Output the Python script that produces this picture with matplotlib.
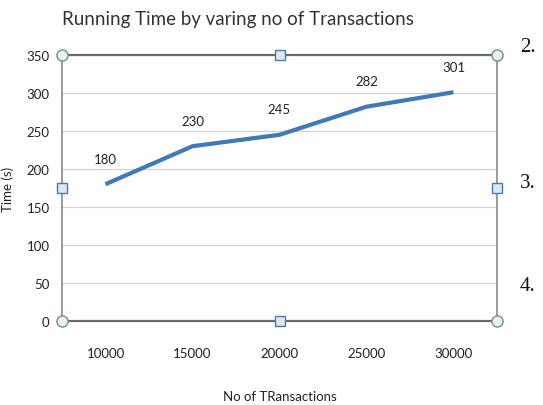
import matplotlib.pyplot as plt

transactions = ['10000', '15000', '20000', '25000', '30000']
run_time = [180, 230, 245, 282, 301]
y_ticks = [0, 50, 100, 150, 200, 250, 300, 350]

plt.rcParams['font.family'] = ['Lato', 'DejaVu Sans']

fig = plt.figure(figsize=(5.43, 4.06), dpi=100)
ax = fig.add_axes([62/543, 84/406, 435/543, 266/406])

x = list(range(len(transactions)))
ax.plot(x, run_time, color='#4178b9', lw=3, solid_capstyle='butt')
for xi, v in zip(x, run_time):
    ax.annotate(str(v), (xi, v), xytext=(0, 14), textcoords='offset points',
                ha='center', va='bottom', fontsize=9.5, color='#222222')

ax.set_xlim(-0.5, len(transactions) - 0.5)
ax.set_ylim(0, 350)
ax.set_yticks(y_ticks)
ax.set_xticks(x)
ax.set_xticklabels(transactions)
ax.tick_params(length=0, labelsize=9.5, colors='#222222')
ax.tick_params(axis='x', pad=19)
ax.tick_params(axis='y', pad=9)
ax.yaxis.grid(True, color='#d0d0d0', lw=0.8)
ax.set_axisbelow(True)
for s in ['left', 'right']:
    ax.spines[s].set_color('#8a8a8a')
    ax.spines[s].set_linewidth(1.2)
for s in ['top', 'bottom']:
    ax.spines[s].set_color('#6a6a6a')
    ax.spines[s].set_linewidth(1.6)

ax.set_xlabel('No of TRansactions', fontsize=9.5, color='#222222', labelpad=22)
ax.set_ylabel('Time (s)', fontsize=9.5, color='#222222', labelpad=9)
fig.text(238/543, 1 - 19/406, 'Running Time by varing no of Transactions',
         ha='center', va='center', fontsize=13.5, color='#333333')

# selection handles of the chart frame
for hx, hy in [(0, 0), (0, 1), (1, 0), (1, 1)]:
    ax.plot(hx, hy, 'o', ms=8, mfc='#e4f2f2', mec='#7a8a8a', mew=1,
            transform=ax.transAxes, clip_on=False, zorder=5)
for hx, hy in [(0.5, 0), (0.5, 1), (0, 0.5), (1, 0.5)]:
    ax.plot(hx, hy, 's', ms=7, mfc='#dbe8f4', mec='#4a78a8', mew=1,
            transform=ax.transAxes, clip_on=False, zorder=5)

for lab, yy in [('2.', 47), ('3.', 183), ('4.', 287)]:
    fig.text(520/543, 1 - yy/406, lab, ha='left', va='center',
             fontsize=15, family='Liberation Serif', color='#111111')

fig.savefig('out.png', dpi=100)
